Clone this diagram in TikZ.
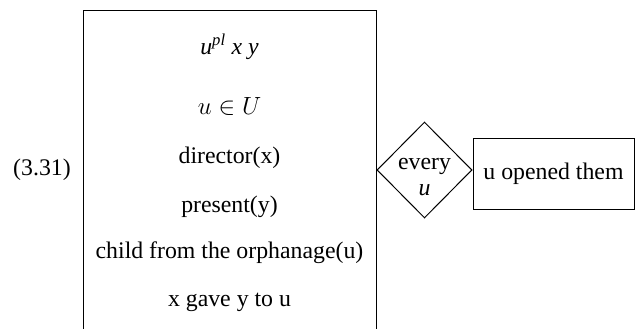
\documentclass[tikz,border=0pt]{standalone}
\usepackage{fontspec}
\setmainfont{Liberation Serif}
\usetikzlibrary{shapes.geometric}
\begin{document}
\begin{tikzpicture}[x=1pt,y=-1pt,
  every node/.style={font=\fontsize{23.8}{28}\selectfont, inner sep=0pt},
  line/.style={line width=1pt},
  lbl/.style={anchor=center}]
\useasboundingbox (0,0) rectangle (635,329);
% main box (open at the bottom)
\coordinate (bl) at (83,329);
\coordinate (tl) at (83,11);
\coordinate (tr) at (376,11);
\coordinate (br) at (376,329);
\draw[line] (bl) -- (tl) -- (tr) -- (br);
\node[lbl] (l1) at (229.5,47) {\textit{u}\textsuperscript{\textit{pl}} \textit{x y}};
\node[lbl] (l2) at (229.5,106) {$u\in U$};
\node[lbl] (l3) at (229.5,158) {director(x)};
\node[lbl] (l4) at (229.5,207) {present(y)};
\node[lbl] (l5) at (229.5,253) {child from the orphanage(u)};
\node[lbl] (l6) at (229.5,302) {x gave y to u};
\node[lbl] (num) at (42,170) {(3.31)};
% diamond
\node[diamond, draw, line, minimum width=95pt, minimum height=96pt] (dia) at (424.5,170) {};
\node[lbl] (ev) at (424.5,166) {every};
\node[lbl] (eu) at (424.5,190) {\textit{u}};
% right box
\node[draw, line, minimum width=161pt, minimum height=71pt, anchor=west] (rb) at (472.5,173.5) {};
\node[lbl] (rt) at (rb.center) {u opened them};
\end{tikzpicture}
\end{document}
